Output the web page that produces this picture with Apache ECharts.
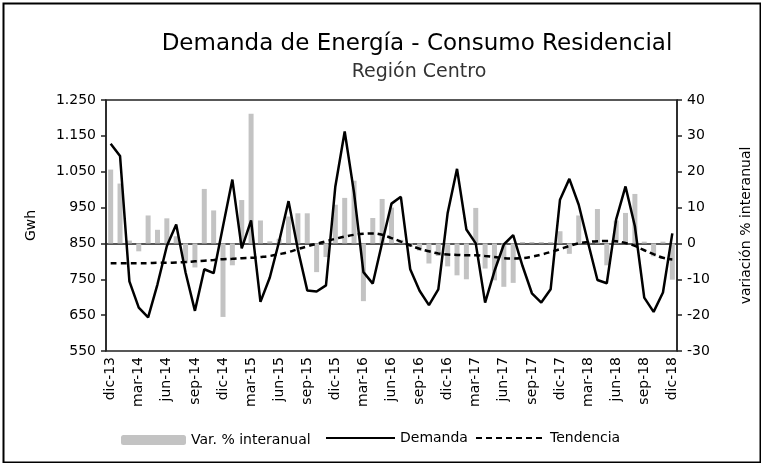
<!DOCTYPE html>
<html>
<head>
<meta charset="utf-8">
<script src="https://cdn.jsdelivr.net/npm/echarts@6/dist/echarts.min.js"></script>
<style>
html,body{margin:0;padding:0;background:#fff;}
#c{width:761px;height:463px;}
</style>
</head>
<body>
<div id="c"></div>
<script>
const meses = ['ene','feb','mar','abr','may','jun','jul','ago','sep','oct','nov','dic'];
const categories = ['dic-13'];
for (let y = 14; y <= 18; y++) { for (const m of meses) categories.push(m + '-' + y); }

const demanda = [1128,1094,744,671,644,736,843,903,769,662,778,767,898,1028,836,914,687,755,856,968,
  833,719,716,733,1009,1162,991,770,738,852,961,980,778,718,678,722,935,1058,889,850,
  685,773,847,873,787,711,685,722,972,1030,958,852,748,739,917,1009,898,699,659,713,878];

const tendencia = [795,795,795,795,795,796,796,797,798,800,802,804,806,807,809,810,812,815,820,826,
  834,842,849,856,863,869,874,877,878,874,865,855,845,835,828,822,819,818,817,817,
  815,812,809,808,809,813,819,826,834,843,850,854,856,857,856,851,843,831,820,810,805];

const variacion = [20.6,16.7,0.8,-2.2,7.8,3.8,7.0,2.0,-5.5,-6.7,15.2,9.2,-20.5,-6.1,12.1,36.2,6.4,0.6,1.3,7.5,
  8.4,8.4,-8.0,-3.8,10.8,12.7,17.5,-16.1,7.1,12.4,10.0,1.0,-1.0,-2.0,-5.6,-3.5,-6.4,-8.9,-10.0,9.9,
  -7.0,-10.3,-12.1,-11.0,0.4,0.4,0.4,0.4,3.4,-2.9,7.8,0.5,9.6,-6.1,6.4,8.5,13.8,0.5,-3.6,0.5,-10.1];

const FONT = 'DejaVu Sans';
const chart = echarts.init(document.getElementById('c'), null, {renderer: 'canvas'});
const legendText = {fontFamily: FONT, fontSize: 14, color: '#000'};
chart.setOption({
  animation: false,
  backgroundColor: '#fff',
  textStyle: {fontFamily: FONT, color: '#000'},
  title: [
    {text: 'Demanda de Energía - Consumo Residencial', left: 412, top: 28, textAlign: 'center',
     textStyle: {fontFamily: FONT, fontSize: 23, fontWeight: 'normal', color: '#000'}},
    {text: 'Región Centro', left: 414, top: 58, textAlign: 'center',
     textStyle: {fontFamily: FONT, fontSize: 19, fontWeight: 'normal', color: '#333'}}
  ],
  graphic: [
    {type: 'rect', left: 1, top: 1, shape: {width: 757, height: 459},
     style: {fill: 'none', stroke: '#000', lineWidth: 2}, silent: true}
  ],
  legend: [
    {data: ['Var. % interanual'], left: 121, top: 433, padding: 0, itemWidth: 65, itemHeight: 10, itemGap: 5,
     textStyle: legendText},
    {data: ['Demanda'], left: 325, top: 431, padding: 0, itemWidth: 69, itemHeight: 14,
     itemStyle: {opacity: 0}, textStyle: legendText},
    {data: ['Tendencia'], left: 475, top: 431, padding: 0, itemWidth: 69, itemHeight: 14,
     itemStyle: {opacity: 0}, textStyle: legendText}
  ],
  grid: {left: 106, right: 82, top: 100, bottom: 112, show: true, borderColor: '#222', borderWidth: 1.5,
         backgroundColor: 'transparent'},
  xAxis: {
    type: 'category', data: categories, boundaryGap: true,
    axisLine: {lineStyle: {color: '#222', width: 1.5}},
    axisTick: {interval: 2, length: 6, lineStyle: {color: '#222', width: 1.5}},
    axisLabel: {interval: 2, rotate: 90, fontFamily: FONT, fontSize: 14, color: '#000', margin: 6}
  },
  yAxis: [
    {type: 'value', min: 550, max: 1250, interval: 100, name: 'Gwh', nameLocation: 'middle', nameRotate: 90,
     nameGap: 68, nameTextStyle: {fontFamily: FONT, fontSize: 14, color: '#000'},
     axisLine: {show: true, lineStyle: {color: '#222', width: 1.5}},
     axisTick: {show: true, length: 5, lineStyle: {color: '#222', width: 1.5}},
     splitLine: {show: false},
     axisLabel: {fontFamily: FONT, fontSize: 14, color: '#000', margin: 10,
       formatter: v => v >= 1000 ? Math.floor(v/1000) + '.' + String(v % 1000).padStart(3, '0') : String(v)}},
    {type: 'value', min: -30, max: 40, interval: 10, name: 'variación % interanual', nameLocation: 'middle',
     nameRotate: 90, nameGap: 62, nameTextStyle: {fontFamily: FONT, fontSize: 14, color: '#000'},
     axisLine: {show: true, lineStyle: {color: '#222', width: 1.5}},
     axisTick: {show: true, length: 5, lineStyle: {color: '#222', width: 1.5}},
     splitLine: {show: false},
     axisLabel: {fontFamily: FONT, fontSize: 14, color: '#000', margin: 10}}
  ],
  series: [
    {name: 'Var. % interanual', type: 'bar', yAxisIndex: 1, data: variacion, barWidth: 5,
     itemStyle: {color: '#c3c3c3'}, z: 1},
    {name: 'Demanda', type: 'line', yAxisIndex: 0, data: demanda, symbol: 'none',
     lineStyle: {color: '#000', width: 2.5}, itemStyle: {color: '#000'}, z: 3},
    {name: 'Tendencia', type: 'line', yAxisIndex: 0, data: tendencia, symbol: 'none', smooth: true,
     lineStyle: {color: '#000', width: 2.5, type: [6, 4]}, itemStyle: {color: '#000'}, z: 2}
  ]
});
</script>
</body>
</html>
